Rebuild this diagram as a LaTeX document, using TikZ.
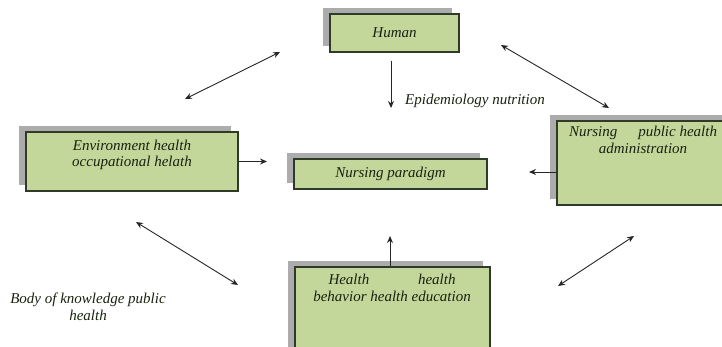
\documentclass[tikz,border=0pt]{standalone}
\usepackage{fontspec}
\setmainfont{Liberation Serif}
\usetikzlibrary{shadows,arrows.meta}
\definecolor{boxfill}{HTML}{C4D79B}
\definecolor{boxline}{HTML}{2F3A28}
\definecolor{txt}{HTML}{18220F}
\tikzset{
  box/.style={draw=boxline, line width=1.3pt, fill=boxfill, inner sep=0pt,
    drop shadow={shadow xshift=-7pt, shadow yshift=6pt, fill=gray!65, opacity=1}},
  lbl/.style={font=\fontsize{15}{16.5}\selectfont\itshape, text=txt, align=center, inner sep=0pt},
  arr/.style={draw=black!85, line width=0.9pt, -{Stealth[length=7pt,width=6pt]}},
  darr/.style={draw=black!85, line width=0.9pt, {Stealth[length=7pt,width=6pt]}-{Stealth[length=7pt,width=6pt]}}
}
\begin{document}
\begin{tikzpicture}[x=1pt,y=-1pt]
\useasboundingbox (0,0) rectangle (722,346);
\begin{scope}
\clip (0,0) rectangle (722,346);
% boxes
\node[box, minimum width=129pt, minimum height=38pt] (human) at (394.5,33) {};
\node[lbl] (humantxt) at (human.center) {Human};
\node[box, minimum width=212pt, minimum height=59pt] (env) at (132,161.5) {};
\node[lbl] (envtxt) at (132,155) {Environment health\\occupational helath};
\node[box, minimum width=193pt, minimum height=30pt] (para) at (390.5,174) {};
\node[lbl] (paratxt) at (para.center) {Nursing paradigm};
\node[box, minimum width=172pt, minimum height=84pt] (admin) at (643,163) {};
\node[lbl, anchor=north] (admintxt) at (643,126) {\makebox[148pt]{Nursing\hfill public health}\\administration};
\node[box, minimum width=195pt, minimum height=100pt] (behav) at (392.5,317) {};
\node[lbl, anchor=north] (behavtxt) at (392,274) {\makebox[127pt]{Health\hfill health}\\behavior health education};
\end{scope}
% free labels
\node[lbl, anchor=west] (epi) at (405,101) {Epidemiology nutrition};
\node[lbl] (body) at (88,307) {Body of knowledge public\\health};
% arrow end points
\coordinate (epiend) at (391,108);
\coordinate (envend) at (267,161.5);
\coordinate (adminend) at (529,172);
\coordinate (behavend) at (390,236);
\coordinate (tl1) at (185,99);
\coordinate (tl2) at (280,52);
\coordinate (tr1) at (501,45);
\coordinate (tr2) at (609,108);
\coordinate (bl1) at (136,222);
\coordinate (bl2) at (238,285);
\coordinate (br1) at (634,236);
\coordinate (br2) at (558,286);
% straight arrows
\draw[arr] ([xshift=-3.5pt,yshift=-8pt]human.south) -- (epiend);
\draw[arr] (env.east) -- (envend);
\draw[arr] (admin.west |- adminend) -- (adminend);
\draw[arr] (behav.north -| behavend) -- (behavend);
% double arrows
\draw[darr] (tl1) -- (tl2);
\draw[darr] (tr1) -- (tr2);
\draw[darr] (bl1) -- (bl2);
\draw[darr] (br1) -- (br2);
\end{tikzpicture}
\end{document}
